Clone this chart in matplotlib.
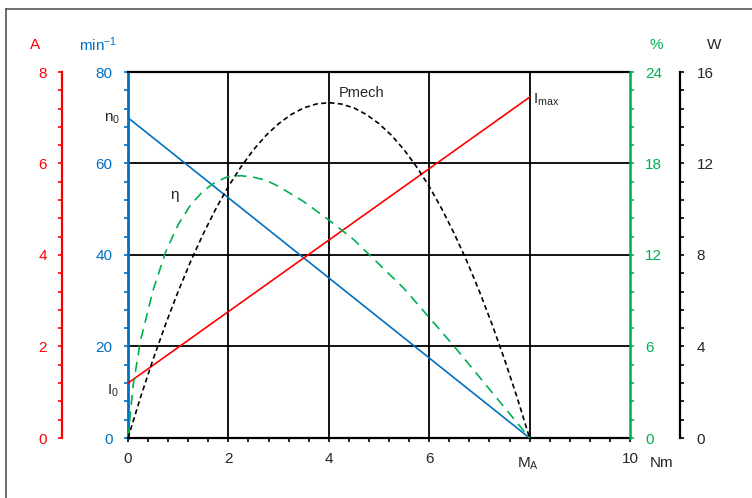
import matplotlib
matplotlib.use("Agg")
import matplotlib.pyplot as plt
from matplotlib.lines import Line2D
from matplotlib.ticker import MultipleLocator

plt.rcParams['font.family'] = ['Liberation Sans', 'DejaVu Sans']
plt.rcParams['font.size'] = 11

# torque axis (Nm)
torque_lines = [0, 8]
speed = [70, 0]          # min^-1
current = [1.2, 7.45]    # A

torque_p = [0, 0.25, 0.5, 0.75, 1, 1.25, 1.5, 1.75, 2, 2.25, 2.5, 2.75, 3, 3.25,
            3.5, 3.75, 4, 4.25, 4.5, 4.75, 5, 5.25, 5.5, 5.75, 6, 6.25, 6.5,
            6.75, 7, 7.25, 7.5, 7.75, 8]
pmech = [0, 1.78, 3.44, 4.98, 6.41, 7.73, 8.93, 10.02, 11.0, 11.85, 12.6, 13.23,
         13.74, 14.14, 14.43, 14.6, 14.66, 14.6, 14.43, 14.14, 13.74, 13.23,
         12.6, 11.85, 11.0, 10.02, 8.93, 7.73, 6.41, 4.98, 3.44, 1.78, 0]   # W

torque_eta = [0, 0.1, 0.25, 0.5, 0.75, 1, 1.25, 1.5, 1.75, 2, 2.25, 2.5, 2.75, 3,
              3.5, 4, 4.5, 5, 5.5, 6, 6.5, 7, 7.5, 8]
eta = [0, 3.4, 6.4, 9.7, 12.2, 14.0, 15.3, 16.2, 16.8, 17.15, 17.2, 17.1, 16.9,
       16.5, 15.5, 14.3, 13.0, 11.4, 9.8, 7.9, 6.0, 4.0, 2.0, 0]   # %

x_ticks = [0, 2, 4, 6, 8, 10]
x_labels = ['0', '2', '4', '6', '', '10']

RED = '#FF0000'
BLUE = '#0070C0'
GREEN = '#00B050'
TXT = '#262626'
FS = 11

W, H = 752, 498
fig = plt.figure(figsize=(W / 100, H / 100), dpi=100)


def fx(px):
    return px / W


def fy(py):
    return 1 - py / H


# plot area in pixels: x 128..630, y 72..438
ax = fig.add_axes([fx(128), fy(438), fx(630) - fx(128), fy(72) - fy(438)])
ax.set_xlim(0, 10)
ax.set_ylim(0, 80)

# grid
for v in [2, 4, 6, 8]:
    ax.axvline(v, color='black', lw=1.3, zorder=1)
for v in [20, 40, 60]:
    ax.axhline(v, color='black', lw=1.3, zorder=1)

ax.spines['top'].set_linewidth(1.6)
ax.spines['bottom'].set_linewidth(1.6)
ax.spines['right'].set_color('#999999')
ax.spines['right'].set_linewidth(1.0)
ax.spines['left'].set_color(BLUE)
ax.spines['left'].set_linewidth(2.0)

ax.set_xticks(x_ticks)
ax.set_xticklabels(x_labels)
ax.xaxis.set_minor_locator(MultipleLocator(0.4))
ax.tick_params(axis='x', which='both', direction='out', length=3, width=1.2,
               color='black', labelsize=FS, pad=7, labelcolor=TXT)
ax.set_yticks([0, 20, 40, 60, 80])
ax.yaxis.set_minor_locator(MultipleLocator(4))
ax.tick_params(axis='y', which='both', direction='out', length=3, width=1.2,
               color=BLUE, labelcolor=BLUE, labelsize=FS, pad=8)

ax.plot(torque_lines, speed, color=BLUE, lw=1.2, zorder=3)

# current axis (left, outer)
ax_i = ax.twinx()
ax_i.set_ylim(0, 8)
for s in ax_i.spines.values():
    s.set_visible(False)
ax_i.spines['left'].set_visible(True)
ax_i.spines['left'].set_position(('axes', -66 / 502))
ax_i.spines['left'].set_color(RED)
ax_i.spines['left'].set_linewidth(1.6)
ax_i.yaxis.tick_left()
ax_i.set_yticks([0, 2, 4, 6, 8])
ax_i.yaxis.set_minor_locator(MultipleLocator(0.4))
ax_i.tick_params(axis='y', which='both', direction='out', length=3, width=1.2,
                 color=RED, labelcolor=RED, labelsize=FS, pad=8)
ax_i.plot(torque_lines, current, color=RED, lw=1.2, zorder=3)

# efficiency axis (right, inner)
ax_e = ax.twinx()
ax_e.set_ylim(0, 24)
for s in ax_e.spines.values():
    s.set_visible(False)
ax_e.spines['right'].set_visible(True)
ax_e.spines['right'].set_color(GREEN)
ax_e.spines['right'].set_linewidth(1.8)
ax_e.set_yticks([0, 6, 12, 18, 24])
ax_e.yaxis.set_minor_locator(MultipleLocator(1.2))
ax_e.tick_params(axis='y', which='both', direction='out', length=3, width=1.2,
                 color=GREEN, labelcolor=GREEN, labelsize=FS, pad=8)
ax_e.plot(torque_eta, eta, color=GREEN, lw=1.2, dashes=(6, 4), zorder=3)

# power axis (right, outer)
ax_p = ax.twinx()
ax_p.set_ylim(0, 16)
for s in ax_p.spines.values():
    s.set_visible(False)
ax_p.spines['right'].set_visible(True)
ax_p.spines['right'].set_position(('axes', 1 + 50 / 502))
ax_p.spines['right'].set_color('black')
ax_p.spines['right'].set_linewidth(1.6)
ax_p.set_yticks([0, 4, 8, 12, 16])
ax_p.yaxis.set_minor_locator(MultipleLocator(0.8))
ax_p.tick_params(axis='y', which='both', direction='out', length=3, width=1.2,
                 color='black', labelcolor=TXT, labelsize=FS, pad=9)
ax_p.plot(torque_p, pmech, color='black', lw=1.2, dashes=(3, 2), zorder=3)

# axis unit labels
fig.text(fx(35), fy(45), 'A', color=RED, fontsize=FS, ha='center', va='center')
fig.text(fx(98), fy(45), r'$\mathregular{min^{-1}}$', color=BLUE, fontsize=FS,
         ha='center', va='center')
fig.text(fx(656), fy(45), '%', color=GREEN, fontsize=FS, ha='center', va='center')
fig.text(fx(714), fy(45), 'W', color=TXT, fontsize=FS, ha='center', va='center')
fig.text(fx(662), fy(463), 'Nm', color=TXT, fontsize=FS, ha='center', va='center')
fig.text(fx(528), fy(464), r'$\mathregular{M_A}$', color=TXT, fontsize=FS,
         ha='center', va='center')

# curve annotations
fig.text(fx(120), fy(119), r'$\mathregular{n_0}$', color=TXT, fontsize=FS,
         ha='right', va='center')
fig.text(fx(119), fy(391), r'$\mathregular{I_0}$', color=TXT, fontsize=FS,
         ha='right', va='center')
fig.text(fx(175), fy(195), 'η', color=TXT, fontsize=FS, ha='center', va='center')
fig.text(fx(362), fy(93), 'Pmech', color=TXT, fontsize=10.5, ha='center', va='center')
fig.text(fx(533), fy(100), r'$\mathregular{I_{max}}$', color=TXT, fontsize=FS,
         ha='left', va='center')

# image frame
fig.add_artist(Line2D([fx(6), 1], [fy(9), fy(9)], color='#555555', lw=1.2))
fig.add_artist(Line2D([fx(6), fx(6)], [fy(9), 0], color='#555555', lw=1.2))

fig.savefig('out.png', dpi=100)
